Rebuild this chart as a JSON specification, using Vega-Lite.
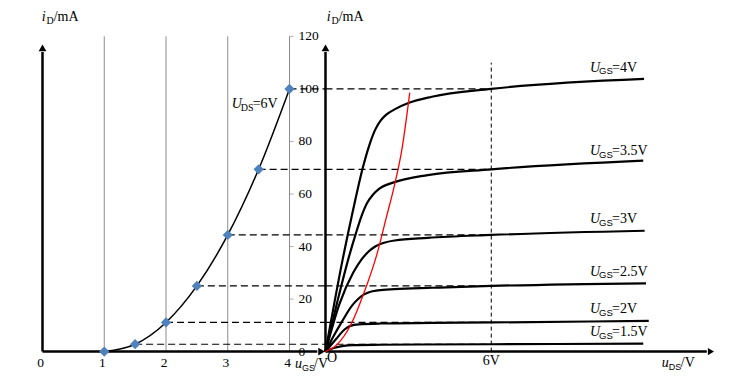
{
  "$schema": "https://vega.github.io/schema/vega-lite/v6.json",
  "width": 733,
  "height": 380,
  "autosize": {"type": "fit", "contains": "padding"},
  "padding": 0,
  "background": "white",
  "config": {"view": {"stroke": null}},
  "datasets": {
    "grid": [{"x": 1, "y": 0, "y2": 120}, {"x": 2, "y": 0, "y2": 120}, {"x": 3, "y": 0, "y2": 120}, {"x": 4, "y": 0, "y2": 120}],
    "trans": [{"x": 1, "y": 0}, {"x": 1.5, "y": 2.8}, {"x": 2, "y": 11.1}, {"x": 2.5, "y": 25}, {"x": 3, "y": 44.4}, {"x": 3.5, "y": 69.4}, {"x": 4, "y": 100}],
    "dashL": [{"x": 1.5, "x2": 4.58, "y": 2.8}, {"x": 2, "x2": 4.58, "y": 11.1}, {"x": 2.5, "x2": 4.58, "y": 25}, {"x": 3, "x2": 4.58, "y": 44.4}, {"x": 3.5, "x2": 4.58, "y": 69.4}, {"x": 4, "x2": 4.58, "y": 100}],
    "dashR": [{"x": 0, "x2": 6, "y": 2.8}, {"x": 0, "x2": 6, "y": 11.1}, {"x": 0, "x2": 6, "y": 25}, {"x": 0, "x2": 6, "y": 44.4}, {"x": 0, "x2": 6, "y": 69.4}, {"x": 0, "x2": 6, "y": 100}],
    "vdash": [{"x": 6, "y": 0, "y2": 110}],
    "ylab": [{"y": 0, "t": "0"}, {"y": 20, "t": "20"}, {"y": 40, "t": "40"}, {"y": 60, "t": "60"}, {"y": 80, "t": "80"}, {"y": 100, "t": "100"}, {"y": 120, "t": "120"}],
    "xlab": [{"x": 0, "y": -5.75, "t": "0"}, {"x": 1, "y": -5.75, "t": "1"}, {"x": 2, "y": -5.75, "t": "2"}, {"x": 3, "y": -5.75, "t": "3"}, {"x": 4, "y": -5.75, "t": "4"}],
    "vaxis": [{"x": 0, "y": 0, "y2": 114}],
    "vhead": [{"x": 0, "y": 115.6}],
    "haxisL": [{"x": 0, "x2": 4.45, "y": 0}],
    "hheadL": [{"x": 4.52, "y": 0}],
    "haxisR": [{"x": 0, "x2": 13.8, "y": 0}],
    "hheadR": [{"x": 13.95, "y": 0}],
    "curves": [
      {"g": "4", "x": 0, "y": 0}, {"g": "4", "x": 0.62, "y": 35}, {"g": "4", "x": 1.0, "y": 54}, {"g": "4", "x": 1.35, "y": 70}, {"g": "4", "x": 1.6, "y": 79}, {"g": "4", "x": 1.8, "y": 84.5}, {"g": "4", "x": 2.0, "y": 88}, {"g": "4", "x": 2.2, "y": 90.2}, {"g": "4", "x": 2.5, "y": 92.2}, {"g": "4", "x": 3.0, "y": 94.6}, {"g": "4", "x": 3.85, "y": 97}, {"g": "4", "x": 6, "y": 100}, {"g": "4", "x": 11.53, "y": 103.8},
      {"g": "3.5", "x": 0, "y": 0}, {"g": "3.5", "x": 0.5, "y": 22}, {"g": "3.5", "x": 0.82, "y": 35}, {"g": "3.5", "x": 1.1, "y": 45}, {"g": "3.5", "x": 1.3, "y": 51.5}, {"g": "3.5", "x": 1.5, "y": 56.5}, {"g": "3.5", "x": 1.7, "y": 59.5}, {"g": "3.5", "x": 1.95, "y": 62}, {"g": "3.5", "x": 2.5, "y": 64.5}, {"g": "3.5", "x": 3.7, "y": 67.2}, {"g": "3.5", "x": 6, "y": 69.4}, {"g": "3.5", "x": 11.5, "y": 72.7},
      {"g": "3", "x": 0, "y": 0}, {"g": "3", "x": 0.5, "y": 18}, {"g": "3", "x": 1.0, "y": 30}, {"g": "3", "x": 1.3, "y": 35}, {"g": "3", "x": 1.55, "y": 38}, {"g": "3", "x": 1.8, "y": 40}, {"g": "3", "x": 2.5, "y": 42.3}, {"g": "3", "x": 3.7, "y": 43.3}, {"g": "3", "x": 6, "y": 44.4}, {"g": "3", "x": 11.55, "y": 46},
      {"g": "2.5", "x": 0, "y": 0}, {"g": "2.5", "x": 0.3, "y": 6}, {"g": "2.5", "x": 0.6, "y": 11.5}, {"g": "2.5", "x": 0.96, "y": 17.5}, {"g": "2.5", "x": 1.2, "y": 20.2}, {"g": "2.5", "x": 1.4, "y": 21.8}, {"g": "2.5", "x": 1.6, "y": 22.7}, {"g": "2.5", "x": 1.9, "y": 23.3}, {"g": "2.5", "x": 2.5, "y": 23.8}, {"g": "2.5", "x": 3.86, "y": 24.3}, {"g": "2.5", "x": 6, "y": 25}, {"g": "2.5", "x": 11.6, "y": 26},
      {"g": "2", "x": 0, "y": 0}, {"g": "2", "x": 0.4, "y": 5}, {"g": "2", "x": 0.7, "y": 8.5}, {"g": "2", "x": 0.9, "y": 9.8}, {"g": "2", "x": 1.2, "y": 10.4}, {"g": "2", "x": 2, "y": 10.7}, {"g": "2", "x": 3.86, "y": 10.9}, {"g": "2", "x": 6, "y": 11.1}, {"g": "2", "x": 11.7, "y": 11.7},
      {"g": "1.5", "x": 0, "y": 0}, {"g": "1.5", "x": 0.3, "y": 1.4}, {"g": "1.5", "x": 0.6, "y": 2.1}, {"g": "1.5", "x": 1.0, "y": 2.5}, {"g": "1.5", "x": 2, "y": 2.6}, {"g": "1.5", "x": 6, "y": 2.8}, {"g": "1.5", "x": 11.5, "y": 3.0}
    ],
    "red": [{"x": 0, "y": 0}, {"x": 0.4, "y": 2.5}, {"x": 0.93, "y": 10.5}, {"x": 1.38, "y": 22}, {"x": 1.86, "y": 37}, {"x": 2.2, "y": 51}, {"x": 2.5, "y": 63.5}, {"x": 2.75, "y": 76}, {"x": 3.05, "y": 98.6}],
    "ugs": [{"x": 9.573, "y": 106.6, "eq": "=4V"}, {"x": 9.573, "y": 74.8, "eq": "=3.5V"}, {"x": 9.573, "y": 48.8, "eq": "=3V"}, {"x": 9.573, "y": 28.8, "eq": "=2.5V"}, {"x": 9.573, "y": 14.6, "eq": "=2V"}, {"x": 9.573, "y": 5.9, "eq": "=1.5V"}],
    "uds": [{"x": 3.064, "y": 92.6, "eq": "=6V"}],
    "idL": [{"x": -0.013, "y": 126.0}],
    "idR": [{"x": 0.043, "y": 126.0}],
    "ugsV": [{"x": 4.089, "y": -6.24}],
    "udsV": [{"x": 12.17, "y": -5.75}],
    "sixV": [{"x": 6, "y": -5.1, "t": "6V"}],
    "origin": [{"x": 0.054, "y": -3.96, "t": "O"}]
  },
  "layer": [
    {
      "layer": [
        {"data": {"name": "grid"}, "mark": {"type": "rule", "color": "#8c8c8c", "strokeWidth": 1},
         "encoding": {"x": {"field": "x", "type": "quantitative", "scale": {"domain": [-0.6883, 11.1822], "nice": false, "zero": false}, "axis": null},
                      "y": {"field": "y", "type": "quantitative", "scale": {"domain": [-10.81, 133.84], "nice": false, "zero": false}, "axis": null},
                      "y2": {"field": "y2"}}},
        {"data": {"name": "ylab"}, "mark": {"type": "tick", "orient": "horizontal", "size": 4, "xOffset": 2, "color": "#8c8c8c", "thickness": 1},
         "encoding": {"x": {"datum": 4, "type": "quantitative"}, "y": {"field": "y", "type": "quantitative"}}},
        {"data": {"name": "dashL"}, "mark": {"type": "rule", "color": "black", "strokeWidth": 1.2, "strokeDash": [7, 4]},
         "encoding": {"x": {"field": "x", "type": "quantitative"}, "x2": {"field": "x2"}, "y": {"field": "y", "type": "quantitative"}}},
        {"data": {"name": "vaxis"}, "mark": {"type": "rule", "color": "black", "strokeWidth": 2.5},
         "encoding": {"x": {"field": "x", "type": "quantitative"}, "y": {"field": "y", "type": "quantitative"}, "y2": {"field": "y2"}}},
        {"data": {"name": "vhead"}, "mark": {"type": "point", "shape": "triangle-up", "filled": true, "color": "black", "opacity": 1, "size": 60},
         "encoding": {"x": {"field": "x", "type": "quantitative"}, "y": {"field": "y", "type": "quantitative"}}},
        {"data": {"name": "haxisL"}, "mark": {"type": "rule", "color": "black", "strokeWidth": 2.5},
         "encoding": {"x": {"field": "x", "type": "quantitative"}, "x2": {"field": "x2"}, "y": {"field": "y", "type": "quantitative"}}},
        {"data": {"name": "hheadL"}, "mark": {"type": "point", "shape": "triangle-right", "filled": true, "color": "black", "opacity": 1, "size": 60},
         "encoding": {"x": {"field": "x", "type": "quantitative"}, "y": {"field": "y", "type": "quantitative"}}},
        {"data": {"name": "trans"}, "mark": {"type": "line", "color": "black", "strokeWidth": 1.5, "interpolate": "monotone"},
         "encoding": {"x": {"field": "x", "type": "quantitative"}, "y": {"field": "y", "type": "quantitative"}}},
        {"data": {"name": "trans"}, "mark": {"type": "point", "shape": "diamond", "filled": true, "color": "#4f81bd", "opacity": 1, "size": 105},
         "encoding": {"x": {"field": "x", "type": "quantitative"}, "y": {"field": "y", "type": "quantitative"}}},
        {"data": {"name": "ylab"}, "mark": {"type": "text", "font": "Liberation Serif", "fontSize": 13.5, "align": "left", "baseline": "middle", "dx": 9, "color": "black"},
         "encoding": {"x": {"datum": 4, "type": "quantitative"}, "y": {"field": "y", "type": "quantitative"}, "text": {"field": "t"}}},
        {"data": {"name": "xlab"}, "mark": {"type": "text", "font": "Liberation Serif", "fontSize": 13.5, "align": "center", "baseline": "alphabetic", "dx": -2, "color": "black"},
         "encoding": {"x": {"field": "x", "type": "quantitative"}, "y": {"field": "y", "type": "quantitative"}, "text": {"field": "t"}}},
        {"data": {"name": "uds"}, "mark": {"type": "text", "font": "Liberation Serif", "fontSize": 14, "fontStyle": "italic", "align": "left", "baseline": "alphabetic", "color": "black"},
         "encoding": {"x": {"field": "x", "type": "quantitative"}, "y": {"field": "y", "type": "quantitative"}, "text": {"value": "U"}}},
        {"data": {"name": "uds"}, "mark": {"type": "text", "font": "Liberation Serif", "fontSize": 10, "align": "left", "baseline": "alphabetic", "dx": 9, "dy": 3, "color": "black"},
         "encoding": {"x": {"field": "x", "type": "quantitative"}, "y": {"field": "y", "type": "quantitative"}, "text": {"value": "DS"}}},
        {"data": {"name": "uds"}, "mark": {"type": "text", "font": "Liberation Serif", "fontSize": 14, "align": "left", "baseline": "alphabetic", "dx": 21, "color": "black"},
         "encoding": {"x": {"field": "x", "type": "quantitative"}, "y": {"field": "y", "type": "quantitative"}, "text": {"field": "eq"}}},
        {"data": {"name": "idL"}, "mark": {"type": "text", "font": "Liberation Serif", "fontSize": 14, "fontStyle": "italic", "align": "left", "baseline": "alphabetic", "color": "black"},
         "encoding": {"x": {"field": "x", "type": "quantitative"}, "y": {"field": "y", "type": "quantitative"}, "text": {"value": "i"}}},
        {"data": {"name": "idL"}, "mark": {"type": "text", "font": "Liberation Serif", "fontSize": 10, "align": "left", "baseline": "alphabetic", "dx": 4.8, "dy": 3, "color": "black"},
         "encoding": {"x": {"field": "x", "type": "quantitative"}, "y": {"field": "y", "type": "quantitative"}, "text": {"value": "D"}}},
        {"data": {"name": "idL"}, "mark": {"type": "text", "font": "Liberation Serif", "fontSize": 14, "align": "left", "baseline": "alphabetic", "dx": 12, "color": "black"},
         "encoding": {"x": {"field": "x", "type": "quantitative"}, "y": {"field": "y", "type": "quantitative"}, "text": {"value": "/mA"}}},
        {"data": {"name": "ugsV"}, "mark": {"type": "text", "font": "Liberation Serif", "fontSize": 14, "fontStyle": "italic", "align": "left", "baseline": "alphabetic", "color": "black"},
         "encoding": {"x": {"field": "x", "type": "quantitative"}, "y": {"field": "y", "type": "quantitative"}, "text": {"value": "u"}}},
        {"data": {"name": "ugsV"}, "mark": {"type": "text", "font": "Liberation Sans", "fontSize": 9, "align": "left", "baseline": "alphabetic", "dx": 7, "dy": 3, "color": "black"},
         "encoding": {"x": {"field": "x", "type": "quantitative"}, "y": {"field": "y", "type": "quantitative"}, "text": {"value": "GS"}}},
        {"data": {"name": "ugsV"}, "mark": {"type": "text", "font": "Liberation Serif", "fontSize": 14, "align": "left", "baseline": "alphabetic", "dx": 19, "color": "black"},
         "encoding": {"x": {"field": "x", "type": "quantitative"}, "y": {"field": "y", "type": "quantitative"}, "text": {"value": "/V"}}}
      ]
    },
    {
      "layer": [
        {"data": {"name": "dashR"}, "mark": {"type": "rule", "color": "black", "strokeWidth": 1.2, "strokeDash": [7, 4]},
         "encoding": {"x": {"field": "x", "type": "quantitative", "scale": {"domain": [-11.781, 14.749], "nice": false, "zero": false}, "axis": null},
                      "x2": {"field": "x2"},
                      "y": {"field": "y", "type": "quantitative", "scale": {"domain": [-10.81, 133.84], "nice": false, "zero": false}, "axis": null}}},
        {"data": {"name": "vdash"}, "mark": {"type": "rule", "color": "black", "strokeWidth": 1, "strokeDash": [4, 3]},
         "encoding": {"x": {"field": "x", "type": "quantitative"}, "y": {"field": "y", "type": "quantitative"}, "y2": {"field": "y2"}}},
        {"data": {"name": "vaxis"}, "mark": {"type": "rule", "color": "black", "strokeWidth": 2.5},
         "encoding": {"x": {"field": "x", "type": "quantitative"}, "y": {"field": "y", "type": "quantitative"}, "y2": {"field": "y2"}}},
        {"data": {"name": "vhead"}, "mark": {"type": "point", "shape": "triangle-up", "filled": true, "color": "black", "opacity": 1, "size": 60},
         "encoding": {"x": {"field": "x", "type": "quantitative"}, "y": {"field": "y", "type": "quantitative"}}},
        {"data": {"name": "haxisR"}, "mark": {"type": "rule", "color": "black", "strokeWidth": 2.5},
         "encoding": {"x": {"field": "x", "type": "quantitative"}, "x2": {"field": "x2"}, "y": {"field": "y", "type": "quantitative"}}},
        {"data": {"name": "hheadR"}, "mark": {"type": "point", "shape": "triangle-right", "filled": true, "color": "black", "opacity": 1, "size": 50},
         "encoding": {"x": {"field": "x", "type": "quantitative"}, "y": {"field": "y", "type": "quantitative"}}},
        {"data": {"name": "curves"}, "mark": {"type": "line", "color": "black", "strokeWidth": 2.2, "interpolate": "monotone"},
         "encoding": {"x": {"field": "x", "type": "quantitative"}, "y": {"field": "y", "type": "quantitative"}, "detail": {"field": "g"}}},
        {"data": {"name": "red"}, "mark": {"type": "line", "color": "#ff0000", "strokeWidth": 1.3, "interpolate": "monotone"},
         "encoding": {"x": {"field": "x", "type": "quantitative"}, "y": {"field": "y", "type": "quantitative"}}},
        {"data": {"name": "ugs"}, "mark": {"type": "text", "font": "Liberation Serif", "fontSize": 14, "fontStyle": "italic", "align": "left", "baseline": "alphabetic", "color": "black"},
         "encoding": {"x": {"field": "x", "type": "quantitative"}, "y": {"field": "y", "type": "quantitative"}, "text": {"value": "U"}}},
        {"data": {"name": "ugs"}, "mark": {"type": "text", "font": "Liberation Sans", "fontSize": 9.5, "align": "left", "baseline": "alphabetic", "dx": 9, "dy": 2.5, "color": "black"},
         "encoding": {"x": {"field": "x", "type": "quantitative"}, "y": {"field": "y", "type": "quantitative"}, "text": {"value": "GS"}}},
        {"data": {"name": "ugs"}, "mark": {"type": "text", "font": "Liberation Serif", "fontSize": 14, "align": "left", "baseline": "alphabetic", "dx": 22, "color": "black"},
         "encoding": {"x": {"field": "x", "type": "quantitative"}, "y": {"field": "y", "type": "quantitative"}, "text": {"field": "eq"}}},
        {"data": {"name": "idR"}, "mark": {"type": "text", "font": "Liberation Serif", "fontSize": 14, "fontStyle": "italic", "align": "left", "baseline": "alphabetic", "color": "black"},
         "encoding": {"x": {"field": "x", "type": "quantitative"}, "y": {"field": "y", "type": "quantitative"}, "text": {"value": "i"}}},
        {"data": {"name": "idR"}, "mark": {"type": "text", "font": "Liberation Serif", "fontSize": 10, "align": "left", "baseline": "alphabetic", "dx": 4.8, "dy": 3, "color": "black"},
         "encoding": {"x": {"field": "x", "type": "quantitative"}, "y": {"field": "y", "type": "quantitative"}, "text": {"value": "D"}}},
        {"data": {"name": "idR"}, "mark": {"type": "text", "font": "Liberation Serif", "fontSize": 14, "align": "left", "baseline": "alphabetic", "dx": 12, "color": "black"},
         "encoding": {"x": {"field": "x", "type": "quantitative"}, "y": {"field": "y", "type": "quantitative"}, "text": {"value": "/mA"}}},
        {"data": {"name": "udsV"}, "mark": {"type": "text", "font": "Liberation Serif", "fontSize": 14, "fontStyle": "italic", "align": "left", "baseline": "alphabetic", "color": "black"},
         "encoding": {"x": {"field": "x", "type": "quantitative"}, "y": {"field": "y", "type": "quantitative"}, "text": {"value": "u"}}},
        {"data": {"name": "udsV"}, "mark": {"type": "text", "font": "Liberation Sans", "fontSize": 9, "align": "left", "baseline": "alphabetic", "dx": 7, "dy": 3, "color": "black"},
         "encoding": {"x": {"field": "x", "type": "quantitative"}, "y": {"field": "y", "type": "quantitative"}, "text": {"value": "DS"}}},
        {"data": {"name": "udsV"}, "mark": {"type": "text", "font": "Liberation Serif", "fontSize": 14, "align": "left", "baseline": "alphabetic", "dx": 19, "color": "black"},
         "encoding": {"x": {"field": "x", "type": "quantitative"}, "y": {"field": "y", "type": "quantitative"}, "text": {"value": "/V"}}},
        {"data": {"name": "sixV"}, "mark": {"type": "text", "font": "Liberation Serif", "fontSize": 14, "align": "center", "baseline": "alphabetic", "color": "black"},
         "encoding": {"x": {"field": "x", "type": "quantitative"}, "y": {"field": "y", "type": "quantitative"}, "text": {"field": "t"}}},
        {"data": {"name": "origin"}, "mark": {"type": "text", "font": "Liberation Serif", "fontSize": 14, "align": "left", "baseline": "alphabetic", "color": "black"},
         "encoding": {"x": {"field": "x", "type": "quantitative"}, "y": {"field": "y", "type": "quantitative"}, "text": {"field": "t"}}}
      ]
    }
  ],
  "resolve": {"scale": {"x": "independent"}}
}
